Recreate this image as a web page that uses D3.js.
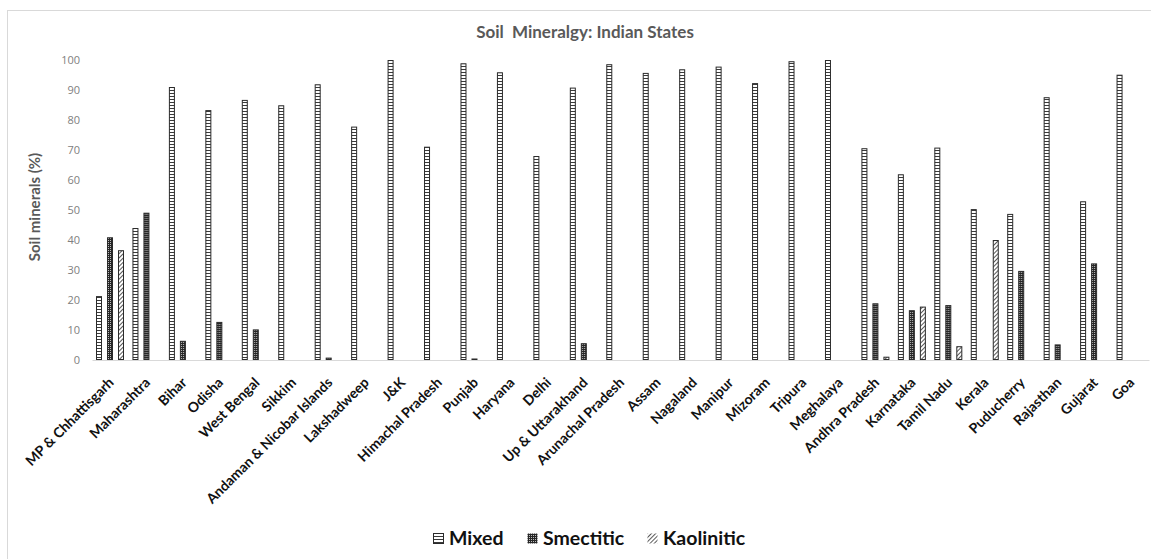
<!DOCTYPE html>
<html>
<head>
<meta charset="utf-8">
<script src="https://cdn.jsdelivr.net/npm/d3@7"></script>
<style>
  body { margin: 0; background: #fff; }
  svg text { font-family: Lato, "Open Sans", sans-serif; }
</style>
</head>
<body>
<div id="chart"></div>
<script>
// categories and series values
const states = ["MP & Chhattisgarh", "Maharashtra", "Bihar", "Odisha", "West Bengal", "Sikkim",
  "Andaman & Nicobar Islands", "Lakshadweep", "J&K", "Himachal Pradesh", "Punjab", "Haryana",
  "Delhi", "Up & Uttarakhand", "Arunachal Pradesh", "Assam", "Nagaland", "Manipur", "Mizoram",
  "Tripura", "Meghalaya", "Andhra Pradesh", "Karnataka", "Tamil Nadu", "Kerala", "Puducherry",
  "Rajasthan", "Gujarat", "Goa"];

const mixed = [21.3, 44, 91, 83.3, 86.7, 84.9, 91.9, 77.8, 100, 71.1, 98.9, 95.9, 68, 90.8, 98.6,
  95.7, 96.9, 97.8, 92.3, 99.6, 100, 70.6, 61.9, 70.8, 50.3, 48.7, 87.6, 52.9, 95.1];
const smectitic = [40.9, 49.1, 6.4, 12.7, 10.2, 0, 0.8, 0, 0.3, 0, 0.5, 0.3, 0, 5.6, 0,
  0, 0, 0, 0, 0, 0, 18.9, 16.6, 18.3, 0, 29.7, 5.2, 32.2, 0];
const kaolinitic = [36.6, 0, 0, 0, 0, 0, 0, 0, 0, 0, 0, 0, 0, 0.3, 0,
  0, 0, 0, 0, 0, 0, 1.1, 17.8, 4.6, 40, 0, 0, 0, 0];

const seriesNames = ["Mixed", "Smectitic", "Kaolinitic"];
const seriesValues = [mixed, smectitic, kaolinitic];
const yTicks = [0, 10, 20, 30, 40, 50, 60, 70, 80, 90, 100];

const width = 1151, height = 559;
const margin = { top: 60, right: 2, bottom: 199, left: 92 };

const svg = d3.select('#chart').append('svg')
  .attr('width', width)
  .attr('height', height);

// fill patterns
const defs = svg.append('defs');
const pMixed = defs.append('pattern').attr('id', 'p-mixed')
  .attr('patternUnits', 'userSpaceOnUse').attr('width', 8).attr('height', 3);
pMixed.append('rect').attr('width', 8).attr('height', 3).attr('fill', '#fff');
pMixed.append('rect').attr('width', 8).attr('height', 1).attr('fill', '#3a3a3a');

const pSmec = defs.append('pattern').attr('id', 'p-smec')
  .attr('patternUnits', 'userSpaceOnUse').attr('width', 2).attr('height', 2);
pSmec.append('rect').attr('width', 2).attr('height', 2).attr('fill', '#262626');
pSmec.append('rect').attr('width', 1).attr('height', 1).attr('fill', '#bdbdbd');

const pKao = defs.append('pattern').attr('id', 'p-kao')
  .attr('patternUnits', 'userSpaceOnUse').attr('width', 3).attr('height', 3)
  .attr('patternTransform', 'rotate(45)');
pKao.append('rect').attr('width', 3).attr('height', 3).attr('fill', '#fff');
pKao.append('rect').attr('width', 1).attr('height', 3).attr('fill', '#5a5a5a');

const fills = ['url(#p-mixed)', 'url(#p-smec)', 'url(#p-kao)'];

// chart border (only top and left are inside the picture)
svg.append('rect')
  .attr('x', 7.5).attr('y', 10.5)
  .attr('width', 1200).attr('height', 600)
  .attr('fill', 'none')
  .attr('stroke', '#d9d9d9');

// scales
const x0 = d3.scaleBand()
  .domain(states)
  .range([margin.left, width - margin.right]);

const x1 = d3.scaleBand()
  .domain(seriesNames)
  .range([4, 32])
  .paddingInner(5 / 11);

const y = d3.scaleLinear()
  .domain([0, 100])
  .range([height - margin.bottom, margin.top]);

// title
svg.append('text')
  .attr('x', 585).attr('y', 38)
  .attr('text-anchor', 'middle')
  .attr('font-size', 17)
  .attr('font-weight', 700)
  .attr('fill', '#595959')
  .attr('xml:space', 'preserve')
  .text('Soil  Mineralgy: Indian States');

// y axis
const yAxis = d3.axisLeft(y).tickValues(yTicks).tickSize(0).tickPadding(12);
const yAxisGroup = svg.append('g')
  .attr('transform', `translate(${margin.left},0)`)
  .call(yAxis);
yAxisGroup.select('.domain').remove();
yAxisGroup.selectAll('text')
  .attr('font-size', 11)
  .attr('fill', '#808080')
  .style('font-family', '"Open Sans", sans-serif');

svg.append('text')
  .attr('transform', `translate(40,${(y(0) + y(100)) / 2 - 3}) rotate(-90)`)
  .attr('text-anchor', 'middle')
  .attr('font-size', 15)
  .attr('font-weight', 700)
  .attr('fill', '#595959')
  .text('Soil minerals (%)');

// bars
const groups = svg.append('g').selectAll('g')
  .data(states)
  .join('g')
  .attr('transform', d => `translate(${x0(d)},0)`);

groups.selectAll('rect')
  .data((d, i) => seriesNames.map((s, j) => ({ s, j, v: seriesValues[j][i] })).filter(e => e.v > 0))
  .join('rect')
  .attr('x', d => x1(d.s) + 0.5)
  .attr('y', d => y(d.v) + 0.5)
  .attr('width', x1.bandwidth() - 1)
  .attr('height', d => Math.max(0, y(0) - y(d.v) - 1))
  .attr('fill', d => fills[d.j])
  .attr('stroke', '#2b2b2b')
  .attr('stroke-width', 1);

// x axis
const xAxisGroup = svg.append('g')
  .attr('transform', `translate(0,${y(0)})`)
  .call(d3.axisBottom(x0).tickSize(0).tickFormat(''));
xAxisGroup.select('.domain').attr('stroke', '#d9d9d9');

svg.append('g').selectAll('text')
  .data(states)
  .join('text')
  .attr('transform', d => `translate(${x0(d) + x0.bandwidth() / 2 + 1},${y(0) + 20}) rotate(-45)`)
  .attr('text-anchor', 'end')
  .attr('dy', '0.35em')
  .attr('font-size', 14)
  .attr('font-weight', 700)
  .attr('fill', '#111')
  .text(d => d);

// legend
const legendX = [433, 527, 647];
const legend = svg.append('g').selectAll('g')
  .data(seriesNames)
  .join('g')
  .attr('transform', (d, i) => `translate(${legendX[i]},533)`);

legend.append('rect')
  .attr('x', 0.5).attr('y', 0.5)
  .attr('width', 10).attr('height', 10)
  .attr('fill', (d, i) => fills[i])
  .attr('stroke', (d, i) => i === 0 ? '#2b2b2b' : 'none');

legend.append('text')
  .attr('x', 16).attr('y', 12)
  .attr('font-size', 19.5)
  .attr('font-weight', 700)
  .attr('fill', '#111')
  .text(d => d);
</script>
</body>
</html>
